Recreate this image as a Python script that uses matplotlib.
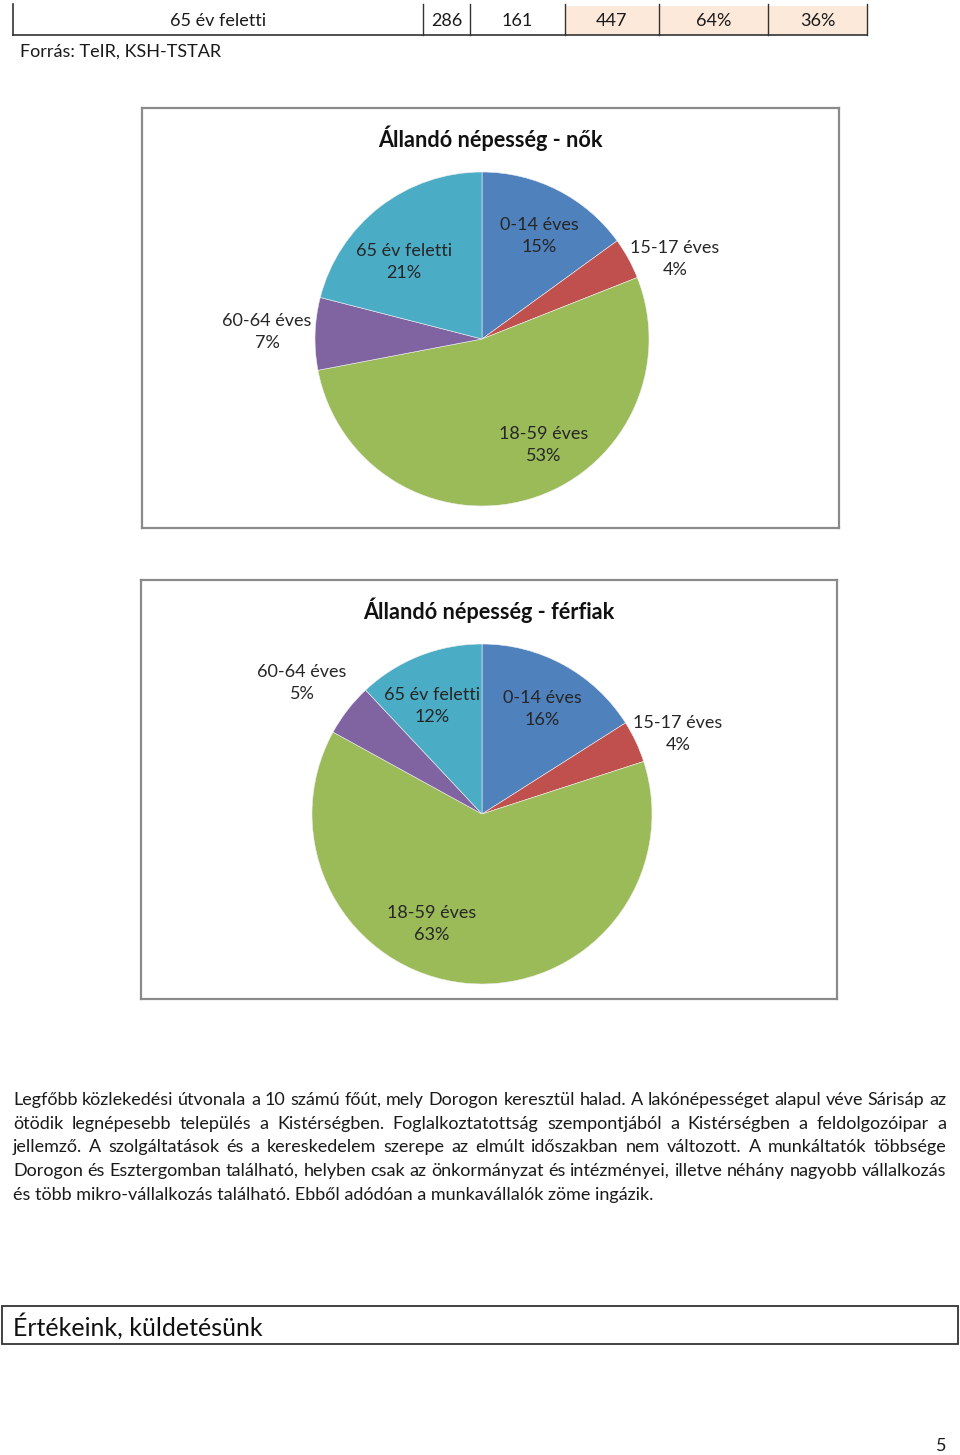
import matplotlib
matplotlib.use("Agg")
import matplotlib.pyplot as plt
from matplotlib.patches import Rectangle

FONT = ["Lato", "DejaVu Sans"]
plt.rcParams["font.family"] = FONT

# ---------------- data ----------------
categories = ["0-14 éves", "15-17 éves", "18-59 éves", "60-64 éves", "65 év feletti"]
women_pct = [15, 4, 53, 7, 21]
men_pct = [16, 4, 63, 5, 12]
colors = ["#4F81BD", "#C0504D", "#9BBB59", "#8064A2", "#4BACC6"]

table_row_label = "65 év feletti"
table_row_values = ["286", "161", "447", "64%", "36%"]
source_text = "Forrás: TeIR, KSH-TSTAR"

paragraph_lines = [
    "Legfőbb közlekedési útvonala a 10 számú főút, mely Dorogon keresztül halad. A lakónépességet alapul véve Sárisáp az",
    "ötödik legnépesebb település a Kistérségben. Foglalkoztatottság szempontjából a Kistérségben a feldolgozóipar a",
    "jellemző. A szolgáltatások és a kereskedelem szerepe az elmúlt időszakban nem változott. A munkáltatók többsége",
    "Dorogon és Esztergomban található, helyben csak az önkormányzat és intézményei, illetve néhány nagyobb vállalkozás",
    "és több mikro-vállalkozás található. Ebből adódóan a munkavállalók zöme ingázik.",
]
heading_text = "Értékeink, küldetésünk"
page_number = "5"

# ---------------- layout ----------------
W, H = 960, 1455
fig = plt.figure(figsize=(W / 100, H / 100), dpi=100)
fig.patch.set_facecolor("white")
page = fig.add_axes([0, 0, 1, 1])
page.set_xlim(0, W)
page.set_ylim(H, 0)
page.axis("off")

TXT = "#1a1a1a"
FS = 13.0

# table fragment
col_edges = [423, 470, 565, 659, 768, 867]
for i in range(2, 5):
    page.add_patch(Rectangle((col_edges[i], 6), col_edges[i + 1] - col_edges[i], 29,
                             facecolor="#FCE9D9", edgecolor="none", zorder=1))
page.plot([13, 867], [35, 35], color="#333333", lw=1.2, zorder=3)
page.plot([13, 13], [4, 35], color="#333333", lw=1.2, zorder=3)
for x in col_edges:
    page.plot([x, x], [4, 35], color="#333333", lw=1.0, zorder=3)
page.text(218, 21, table_row_label, ha="center", va="center", fontsize=FS, color=TXT)
for i, v in enumerate(table_row_values):
    page.text((col_edges[i] + col_edges[i + 1]) / 2, 21, v, ha="center", va="center",
              fontsize=FS, color=TXT, zorder=4)
page.text(20, 52, source_text, ha="left", va="center", fontsize=FS, color=TXT)


def pie_chart(box, center, radius, values, title, title_pos, label_offsets):
    x0, y0, x1, y1 = box
    ax = fig.add_axes([x0 / W, 1 - y1 / H, (x1 - x0) / W, (y1 - y0) / H])
    cx, cy = center
    ax.pie(values, colors=colors, startangle=90, counterclock=False, radius=radius,
           center=(0, 0), wedgeprops=dict(linewidth=0.4, edgecolor="#f0f0f0"), frame=True)
    ax.set_xlim(x0 - cx, x1 - cx)
    ax.set_ylim(cy - y1, cy - y0)
    ax.set_aspect("auto")
    ax.set_xticks([])
    ax.set_yticks([])
    for s in ax.spines.values():
        s.set_color("#8a8a8a")
        s.set_linewidth(1.6)
    for cat, v, (dx, dy) in zip(categories, values, label_offsets):
        ax.text(dx, dy, f"{cat}\n{v}%", ha="center", va="center", fontsize=FS,
                color="#262626", linespacing=1.4)
    ax.text(title_pos[0] - cx, cy - title_pos[1], title, ha="center", va="center",
            fontsize=15.6, fontweight="bold", color="#111111")


pie_chart((142, 108, 839, 528), (482, 339), 167, women_pct,
          "Állandó népesség - nők", (490, 138),
          [(57, 103), (193, 80), (62, -106), (-215, 7), (-78, 77)])
pie_chart((141, 580, 837, 999), (482, 814), 170, men_pct,
          "Állandó népesség - férfiak", (489, 610),
          [(60, 105), (196, 80), (-50, -110), (-180, 131), (-50, 108)])

# justified paragraph
fig.canvas.draw()
renderer = fig.canvas.get_renderer()
left, right = 13, 946
line_y = [1100, 1124, 1147, 1171, 1195]
for li, (line, y) in enumerate(zip(paragraph_lines, line_y)):
    words = line.split(" ")
    if li == len(paragraph_lines) - 1:
        page.text(left, y, line, ha="left", va="center", fontsize=FS, color=TXT)
        continue
    arts = [page.text(0, y, w, ha="left", va="center", fontsize=FS, color=TXT) for w in words]
    widths = [a.get_window_extent(renderer).width for a in arts]
    gap = (right - left - sum(widths)) / (len(words) - 1)
    x = left
    for a, w in zip(arts, widths):
        a.set_x(x)
        x += w + gap

# heading box
page.add_patch(Rectangle((2, 1306), 956, 38, facecolor="none", edgecolor="#333333", lw=1.3))
page.text(13, 1326, heading_text, ha="left", va="center", fontsize=18, color="#111111")
page.text(941, 1446, page_number, ha="center", va="center", fontsize=13, color=TXT)

fig.savefig("out.png", dpi=100)
